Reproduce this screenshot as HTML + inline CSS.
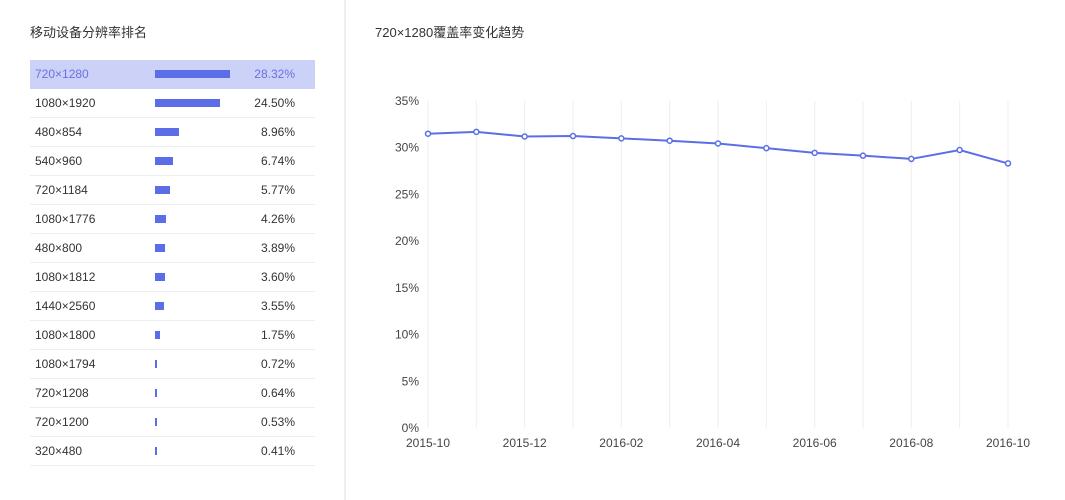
<!DOCTYPE html>
<html><head><meta charset="utf-8"><style>
body{margin:0;width:1065px;height:500px;background:#fff;font-family:"Liberation Sans","Noto Sans CJK SC",sans-serif;overflow:hidden;position:relative}
.t{position:absolute;font-size:13px;color:#333}
.row{position:absolute;left:30px;width:285px;height:29px;border-bottom:1px solid #eee;box-sizing:border-box;font-size:12px;color:#333}
.row span{position:absolute;top:7px}
.row .bar{position:absolute;left:125px;top:10px;height:8px;background:#5b6ee8}
.row.hl{background:#ccd1f8;color:#6a72e0;border-bottom:none}
</style></head><body>
<div class="t" style="left:30px;top:22px">移动设备分辨率排名</div>
<div class="t" style="left:375px;top:22px">720×1280覆盖率变化趋势</div>
<div style="position:absolute;left:344px;top:0;width:2px;height:500px;background:#eee"></div>
<div id="list"></div>
<svg id="chart" width="1065" height="500" style="position:absolute;left:0;top:0"></svg>
<script>
const resLabels=["720×1280","1080×1920","480×854","540×960","720×1184","1080×1776","480×800","1080×1812","1440×2560","1080×1800","1080×1794","720×1208","720×1200","320×480"];
const resValues=[28.32,24.50,8.96,6.74,5.77,4.26,3.89,3.60,3.55,1.75,0.72,0.64,0.53,0.41];
const months=["2015-10","2015-11","2015-12","2016-01","2016-02","2016-03","2016-04","2016-05","2016-06","2016-07","2016-08","2016-09","2016-10"];
const coverage=[31.5,31.7,31.2,31.25,31.0,30.75,30.45,29.95,29.45,29.15,28.8,29.75,28.32];
const yTicks=[0,5,10,15,20,25,30,35];

const list=document.getElementById('list');
resLabels.forEach((l,i)=>{
  const r=document.createElement('div');
  r.className='row'+(i===0?' hl':'');
  
  
  r.style.top=(60+i*29)+'px';
  const w=Math.max(1.5,resValues[i]*75/28.32);
  r.innerHTML='<span style="left:5px">'+l+'</span><div class="bar" style="width:'+w+'px"></div><span style="right:20px">'+resValues[i].toFixed(2)+'%</span>';
  list.appendChild(r);
});

const svg=document.getElementById('chart');
const NS='http://www.w3.org/2000/svg';
const x0=428,x1=1008,yB=428,yT=101;
const X=i=>x0+i*(x1-x0)/(months.length-1);
const Y=v=>yB-v*(yB-yT)/35;
function el(t,a,txt){const e=document.createElementNS(NS,t);for(const k in a)e.setAttribute(k,a[k]);if(txt!==undefined)e.textContent=txt;svg.appendChild(e);return e;}
months.forEach((m,i)=>{
  const g=el('line',{x1:X(i),x2:X(i),y1:yT,y2:yB,stroke:'#eee'});
  
  
  if(i%2===0){
    const t=el('text',{x:X(i),y:yB+19,'text-anchor':'middle','font-size':12,fill:'#444'},m);
    
    
  }
});
yTicks.forEach(v=>{
  const t=el('text',{x:419,y:Y(v)+4,'text-anchor':'end','font-size':12,fill:'#444'},v+'%');
  
  
});
const p=el('polyline',{points:coverage.map((v,i)=>X(i)+','+Y(v)).join(' '),fill:'none',stroke:'#5b6ee8','stroke-width':2});


coverage.forEach((v,i)=>{
  const c=el('circle',{cx:X(i),cy:Y(v),r:2.5,fill:'#fff',stroke:'#5b6ee8','stroke-width':1.5});
  
  
});
</script>
</body></html>
